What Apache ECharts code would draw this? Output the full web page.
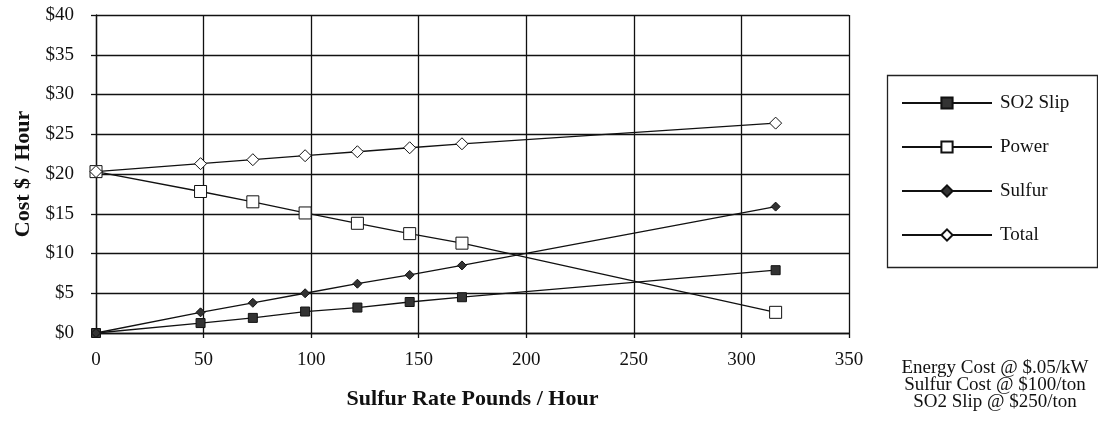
<!DOCTYPE html>
<html>
<head>
<meta charset="utf-8">
<script src="https://cdn.jsdelivr.net/npm/echarts@6/dist/echarts.min.js"></script>
<style>
html,body{margin:0;padding:0;background:#fff;}
#chart{width:1098px;height:427px;}
</style>
</head>
<body>
<div id="chart"></div>
<script>
// Sulfur rate (pounds / hour)
const sulfurRate = [0, 48.6, 72.9, 97.2, 121.5, 145.8, 170.1, 315.9];
// Cost $ / hour
const so2Slip = [0, 1.25, 1.9, 2.7, 3.2, 3.9, 4.5, 7.9];
const power   = [20.3, 17.8, 16.5, 15.1, 13.8, 12.5, 11.3, 2.6];
const sulfur  = [0, 2.6, 3.8, 5.0, 6.2, 7.3, 8.5, 15.9];
const total   = [20.3, 21.3, 21.8, 22.3, 22.8, 23.3, 23.8, 26.4];
const seriesNames = ['SO2 Slip', 'Power', 'Sulfur', 'Total'];
const notes = ['Energy Cost @ $.05/kW', 'Sulfur Cost @ $100/ton', 'SO2 Slip @ $250/ton'];
const xTitle = 'Sulfur Rate Pounds / Hour';
const yTitle = 'Cost $ / Hour';

const FONT = '"Liberation Serif", "DejaVu Serif", serif';
const pairs = arr => sulfurRate.map((x, i) => [x, arr[i]]);

const styles = [
  {symbol: 'rect', size: 9, fill: '#333'},
  {symbol: 'rect', size: 12, fill: '#fff'},
  {symbol: 'diamond', size: 9, fill: '#333'},
  {symbol: 'diamond', size: 12, fill: '#fff'}
];
const dataSets = [so2Slip, power, sulfur, total];

const chart = echarts.init(document.getElementById('chart'), null, {renderer: 'canvas'});
chart.setOption({
  backgroundColor: '#fff',
  animation: false,
  textStyle: {fontFamily: FONT, color: '#111'},
  grid: {left: 96, right: 249, top: 15, bottom: 94},
  xAxis: {
    type: 'value', min: 0, max: 350, interval: 50,
    name: xTitle, nameLocation: 'middle', nameGap: 55,
    nameTextStyle: {fontFamily: FONT, fontWeight: 'bold', fontSize: 22, color: '#111'},
    axisLine: {show: true, lineStyle: {color: '#111', width: 1.3}},
    axisTick: {show: true, length: 5, lineStyle: {color: '#111', width: 1.3}},
    axisLabel: {fontFamily: FONT, fontSize: 19, color: '#111', margin: 18},
    splitLine: {show: true, lineStyle: {color: '#111', width: 1.3}}
  },
  yAxis: {
    type: 'value', min: 0, max: 40, interval: 5,
    name: yTitle, nameLocation: 'middle', nameGap: 62, nameRotate: 90,
    nameTextStyle: {fontFamily: FONT, fontWeight: 'bold', fontSize: 22, color: '#111'},
    axisLine: {show: true, lineStyle: {color: '#111', width: 1.3}},
    axisTick: {show: true, length: 5, lineStyle: {color: '#111', width: 1.3}},
    axisLabel: {fontFamily: FONT, fontSize: 19, color: '#111', margin: 22,
      formatter: v => '$' + v},
    splitLine: {show: true, lineStyle: {color: '#111', width: 1.3}}
  },
  legend: {
    data: seriesNames,
    orient: 'vertical',
    left: 901, top: 93,
    padding: 0,
    itemWidth: 90, itemHeight: 14, itemGap: 24,
    textStyle: {fontFamily: FONT, fontSize: 19, color: '#111', lineHeight: 20, padding: [0, 0, 0, 3]}
  },
  graphic: [
    {type: 'rect', left: 885, top: 73, shape: {width: 210, height: 192},
     style: {fill: 'none', stroke: '#222', lineWidth: 1.3}, z: -1},
    {type: 'text', x: 995, y: 385,
     style: {text: notes.join('\n'), font: '19px ' + FONT, fill: '#111',
             textAlign: 'center', textVerticalAlign: 'middle', lineHeight: 17}}
  ],
  series: seriesNames.map((name, i) => ({
    name: name, type: 'line',
    data: pairs(dataSets[i]),
    symbol: styles[i].symbol, symbolSize: styles[i].size,
    showAllSymbol: true,
    lineStyle: {color: '#111', width: 1.3},
    itemStyle: {color: styles[i].fill, borderColor: '#111', borderWidth: 1},
    z: 3 + i
  }))
});
</script>
</body>
</html>
